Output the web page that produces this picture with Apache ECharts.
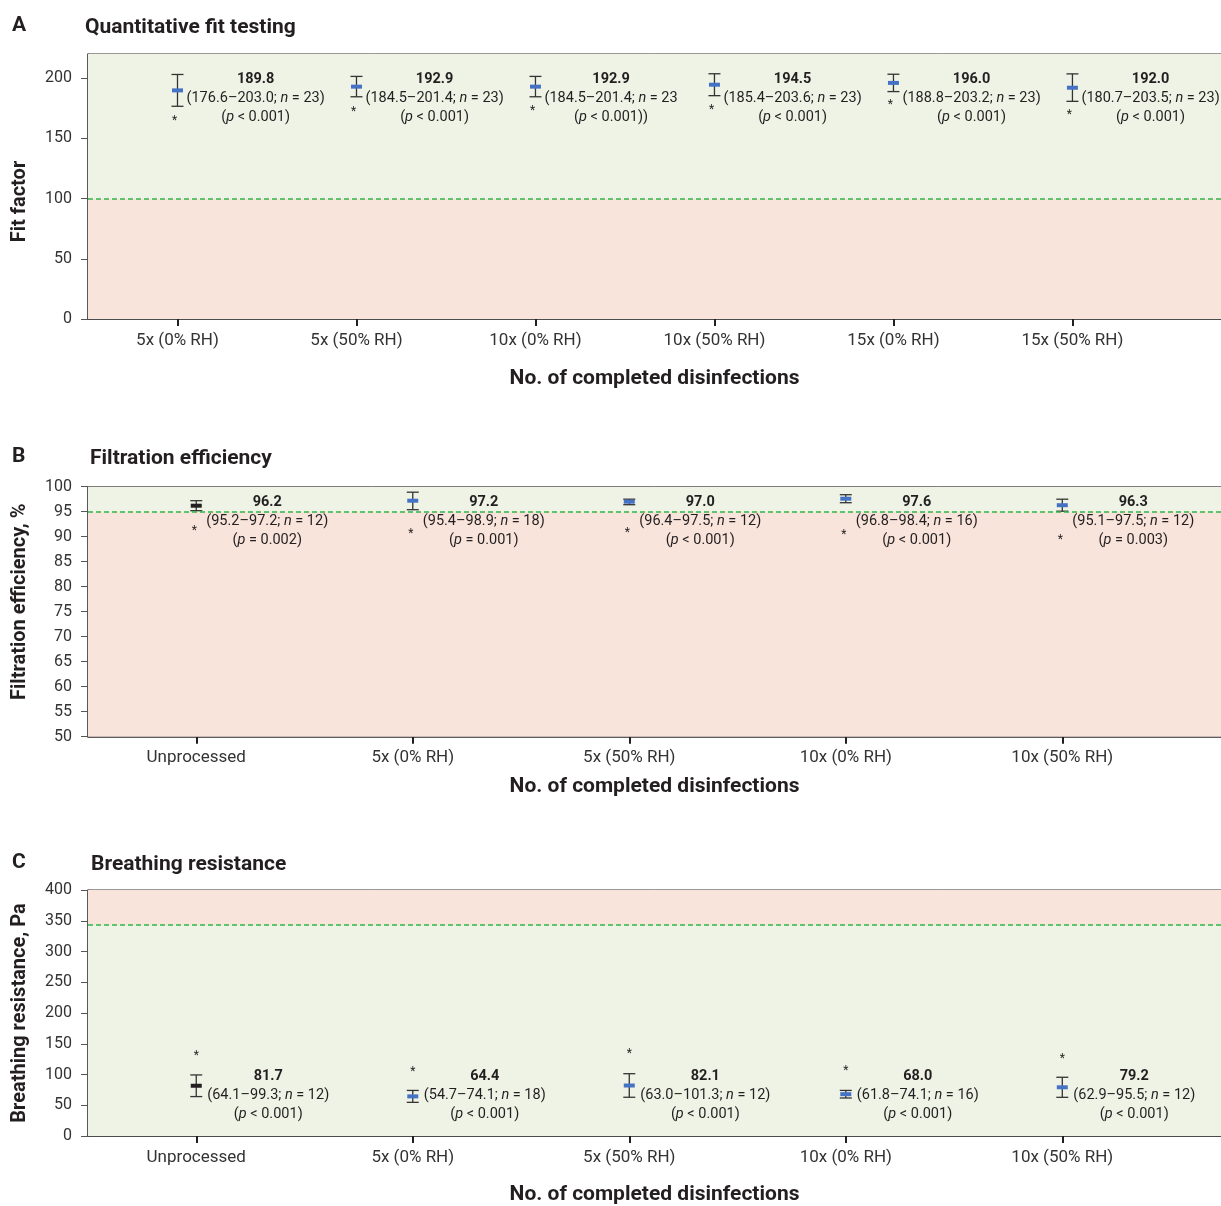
<!DOCTYPE html>
<html>
<head>
<meta charset="utf-8">
<script src="https://cdn.jsdelivr.net/npm/echarts@6/dist/echarts.min.js"></script>
<style>
html,body{margin:0;padding:0;background:#fff;}
#chart{width:1221px;height:1206px;}
</style>
</head>
<body>
<div id="chart"></div>
<script>
// ---------- Data ----------
// Panel A: Quantitative fit testing
const catsA = ['5x (0% RH)', '5x (50% RH)', '10x (0% RH)', '10x (50% RH)', '15x (0% RH)', '15x (50% RH)'];
const meanA = [189.8, 192.9, 192.9, 194.5, 196.0, 192.0];
const lowA  = [176.6, 184.5, 184.5, 185.4, 188.8, 180.7];
const highA = [203.0, 201.4, 201.4, 203.6, 203.2, 203.5];
const nA    = [23, 23, 23, 23, 23, 23];
const ciTailA = [')', ')', '', ')', ')', ')'];
const pA    = ['< 0.001', '< 0.001', '< 0.001)', '< 0.001', '< 0.001', '< 0.001'];
const starA = [166.5, 174.2, 174.8, 175.6, 179.8, 171.5];
const ticksA = [0, 50, 100, 150, 200];

// Panel B: Filtration efficiency
const catsB = ['Unprocessed', '5x (0% RH)', '5x (50% RH)', '10x (0% RH)', '10x (50% RH)'];
const meanB = [96.2, 97.2, 97.0, 97.6, 96.3];
const lowB  = [95.2, 95.4, 96.4, 96.8, 95.1];
const highB = [97.2, 98.9, 97.5, 98.4, 97.5];
const nB    = [12, 18, 12, 16, 12];
const ciTailB = [')', ')', ')', ')', ')'];
const pB    = ['= 0.002', '= 0.001', '< 0.001', '< 0.001', '= 0.003'];
const starB = [91.7, 91.2, 91.3, 90.9, 90.0];

// Panel C: Breathing resistance
const catsC = ['Unprocessed', '5x (0% RH)', '5x (50% RH)', '10x (0% RH)', '10x (50% RH)'];
const meanC = [81.7, 64.4, 82.1, 68.0, 79.2];
const lowC  = [64.1, 54.7, 63.0, 61.8, 62.9];
const highC = [99.3, 74.1, 101.3, 74.1, 95.5];
const nC    = [12, 18, 12, 16, 12];
const ciTailC = [')', ')', ')', ')', ')'];
const pC    = ['< 0.001', '< 0.001', '< 0.001', '< 0.001', '< 0.001'];
const starC = [134.9, 108.3, 137.6, 110.9, 129.6];

// thresholds
const thrA = 100, thrB = 95, thrC = 343;

// ---------- Styling ----------
const FONT = 'Roboto';
const TXT = '#231f20';
const BLUE = '#4472c4';
const GREEN_BG = '#eef3e6';
const PINK_BG = '#f8e4db';
const DASH = '#2fb54a';

const rich = {
  b: {fontFamily: FONT, fontSize: 14.5, fontWeight: 'bold', fill: TXT, align: 'center', lineHeight: 19},
  t: {fontFamily: FONT, fontSize: 14.5, fill: TXT, align: 'center', lineHeight: 19},
  i: {fontFamily: FONT, fontSize: 14.5, fontStyle: 'italic', fill: TXT, align: 'center', lineHeight: 19}
};

function labelText(m, lo, hi, n, tail, p) {
  return '{b|' + m.toFixed(1) + '}\n' +
    '{t|(' + lo.toFixed(1) + '–' + hi.toFixed(1) + '; }{i|n}{t| = ' + n + tail + '}\n' +
    '{t|(}{i|p}{t| ' + p + ')}';
}

function makeRender(cats, ns, tails, ps, cfg) {
  return function (params, api) {
    const i = params.dataIndex;
    const x = api.value(0), m = api.value(1), lo = api.value(2), hi = api.value(3), st = api.value(4);
    const pm = api.coord([x, m]);
    const pl = api.coord([x, lo]);
    const ph = api.coord([x, hi]);
    const pst = api.coord([x, st]);
    const ptx = api.coord([x, cfg.textY]);
    const cap = 6;
    const ls = {stroke: '#333', lineWidth: 1.3};
    const col = cats[i] === 'Unprocessed' ? TXT : BLUE;
    return {
      type: 'group',
      children: [
        {type: 'line', shape: {x1: pl[0], y1: pl[1], x2: ph[0], y2: ph[1]}, style: ls},
        {type: 'line', shape: {x1: pl[0] - cap, y1: pl[1], x2: pl[0] + cap, y2: pl[1]}, style: ls},
        {type: 'line', shape: {x1: ph[0] - cap, y1: ph[1], x2: ph[0] + cap, y2: ph[1]}, style: ls},
        {type: 'rect', shape: {x: pm[0] - 5.5, y: pm[1] - 2, width: 11, height: 4}, style: {fill: col}},
        {type: 'text', x: pst[0] + cfg.starDx, y: pst[1] + 3, style: {text: '*', fontFamily: FONT, fontSize: 12, fill: TXT, align: 'center', verticalAlign: 'middle'}},
        {type: 'text', x: ptx[0] + cfg.textDx, y: ptx[1], style: {
          text: labelText(m, lo, hi, ns[i], tails[i], ps[i]),
          align: 'left', verticalAlign: 'top', rich: rich, fontFamily: FONT, fontSize: 14.5, fill: TXT
        }}
      ]
    };
  };
}

function buildData(mean, low, high, star) {
  return mean.map((m, i) => [i + 1, m, low[i], high[i], star[i]]);
}

function xAxisCfg(gridIndex, cats, max, nameGap) {
  const vals = cats.map((c, i) => i + 1);
  return {
    type: 'value', gridIndex: gridIndex, min: 0.5, max: max,
    name: 'No. of completed disinfections', nameLocation: 'middle', nameGap: nameGap,
    nameTextStyle: {fontFamily: FONT, fontSize: 21, fontWeight: 'bold', color: TXT},
    axisLine: {show: true, lineStyle: {color: '#333', width: 1.5}},
    axisTick: {show: true, customValues: vals, length: 7, lineStyle: {color: TXT, width: 2}},
    axisLabel: {customValues: vals, formatter: v => cats[Math.round(v) - 1], margin: 13,
      fontFamily: FONT, fontSize: 17, color: '#333'},
    splitLine: {show: false}
  };
}

function yAxisCfg(gridIndex, name, min, max, interval, custom, namePad) {
  const ax = {
    type: 'value', gridIndex: gridIndex, min: min, max: max,
    name: name, nameLocation: 'middle', nameGap: 58,
    nameTextStyle: {fontFamily: FONT, fontSize: 20, fontWeight: 'bold', color: TXT, padding: namePad},
    axisLine: {show: true, lineStyle: {color: '#444', width: 1.5}},
    axisTick: {show: true, length: 7, lineStyle: {color: '#555', width: 1}},
    axisLabel: {margin: 16, fontFamily: FONT, fontSize: 16, color: '#333'},
    splitLine: {show: false}
  };
  if (custom) {
    ax.axisTick.customValues = custom;
    ax.axisLabel.customValues = custom;
  } else {
    ax.interval = interval;
  }
  return ax;
}

function bgSeries(xi, yi, areas) {
  return {
    type: 'scatter', xAxisIndex: xi, yAxisIndex: yi, data: [], z: 1, silent: true,
    markArea: {silent: true, data: areas}
  };
}

function dashLine(v) {
  return {silent: true, symbol: ['none', 'none'], label: {show: false},
    lineStyle: {color: DASH, type: [5, 3], width: 1.5}, data: [{yAxis: v}]};
}

const titleStyle = {fontFamily: FONT, fontSize: 21, fontWeight: 'bold', color: TXT};

const option = {
  backgroundColor: '#fff',
  animation: false,
  title: [
    {text: 'A', left: 12, top: 15, padding: 0, textStyle: titleStyle},
    {text: 'Quantitative fit testing', left: 85, top: 17, padding: 0, textStyle: titleStyle},
    {text: 'B', left: 12, top: 446, padding: 0, textStyle: titleStyle},
    {text: 'Filtration efficiency', left: 90, top: 448, padding: 0, textStyle: titleStyle},
    {text: 'C', left: 12, top: 852, padding: 0, textStyle: titleStyle},
    {text: 'Breathing resistance', left: 91, top: 854, padding: 0, textStyle: titleStyle}
  ],
  grid: [
    {left: 88, right: 0, top: 54, bottom: 887, show: true, borderColor: '#333', borderWidth: 1, backgroundColor: 'transparent'},
    {left: 88, right: 0, top: 486.7, bottom: 469.3, show: true, borderColor: '#333', borderWidth: 1, backgroundColor: 'transparent'},
    {left: 88, right: 0, top: 890, bottom: 66, show: true, borderColor: '#333', borderWidth: 1, backgroundColor: 'transparent'}
  ],
  xAxis: [
    xAxisCfg(0, catsA, 6.83, 49),
    xAxisCfg(1, catsB, 5.733, 40),
    xAxisCfg(2, catsC, 5.733, 48)
  ],
  yAxis: [
    yAxisCfg(0, 'Fit factor', 0, 220, null, ticksA, [0, 30, 0, 0]),
    yAxisCfg(1, 'Filtration efficiency, %', 50, 100, 5, null, [0, 0, 0, 20]),
    yAxisCfg(2, 'Breathing resistance, Pa', 0, 400, 50, null, [0, 0, 0, 0])
  ],
  series: [
    bgSeries(0, 0, [
      [{yAxis: thrA, itemStyle: {color: GREEN_BG}}, {yAxis: 220}],
      [{yAxis: 0, itemStyle: {color: PINK_BG}}, {yAxis: thrA}]
    ]),
    bgSeries(1, 1, [
      [{yAxis: thrB, itemStyle: {color: GREEN_BG}}, {yAxis: 100}],
      [{yAxis: 50, itemStyle: {color: PINK_BG}}, {yAxis: thrB}]
    ]),
    bgSeries(2, 2, [
      [{yAxis: thrC, itemStyle: {color: PINK_BG}}, {yAxis: 400}],
      [{yAxis: 0, itemStyle: {color: GREEN_BG}}, {yAxis: thrC}]
    ]),
    {
      type: 'custom', xAxisIndex: 0, yAxisIndex: 0, z: 3, encode: {x: 0, y: 1},
      data: buildData(meanA, lowA, highA, starA),
      renderItem: makeRender(catsA, nA, ciTailA, pA, {textY: 207.2, textDx: 9, starDx: -3}),
      markLine: dashLine(thrA)
    },
    {
      type: 'custom', xAxisIndex: 1, yAxisIndex: 1, z: 3, encode: {x: 0, y: 1},
      data: buildData(meanB, lowB, highB, starB),
      renderItem: makeRender(catsB, nB, ciTailB, pB, {textY: 98.78, textDx: 10, starDx: -2}),
      markLine: dashLine(thrB)
    },
    {
      type: 'custom', xAxisIndex: 2, yAxisIndex: 2, z: 3, encode: {x: 0, y: 1},
      data: buildData(meanC, lowC, highC, starC),
      renderItem: makeRender(catsC, nC, ciTailC, pC, {textY: 112.3, textDx: 11, starDx: 0}),
      markLine: dashLine(thrC)
    }
  ]
};

const chart = echarts.init(document.getElementById('chart'), null, {renderer: 'canvas'});
chart.setOption(option);
</script>
</body>
</html>
